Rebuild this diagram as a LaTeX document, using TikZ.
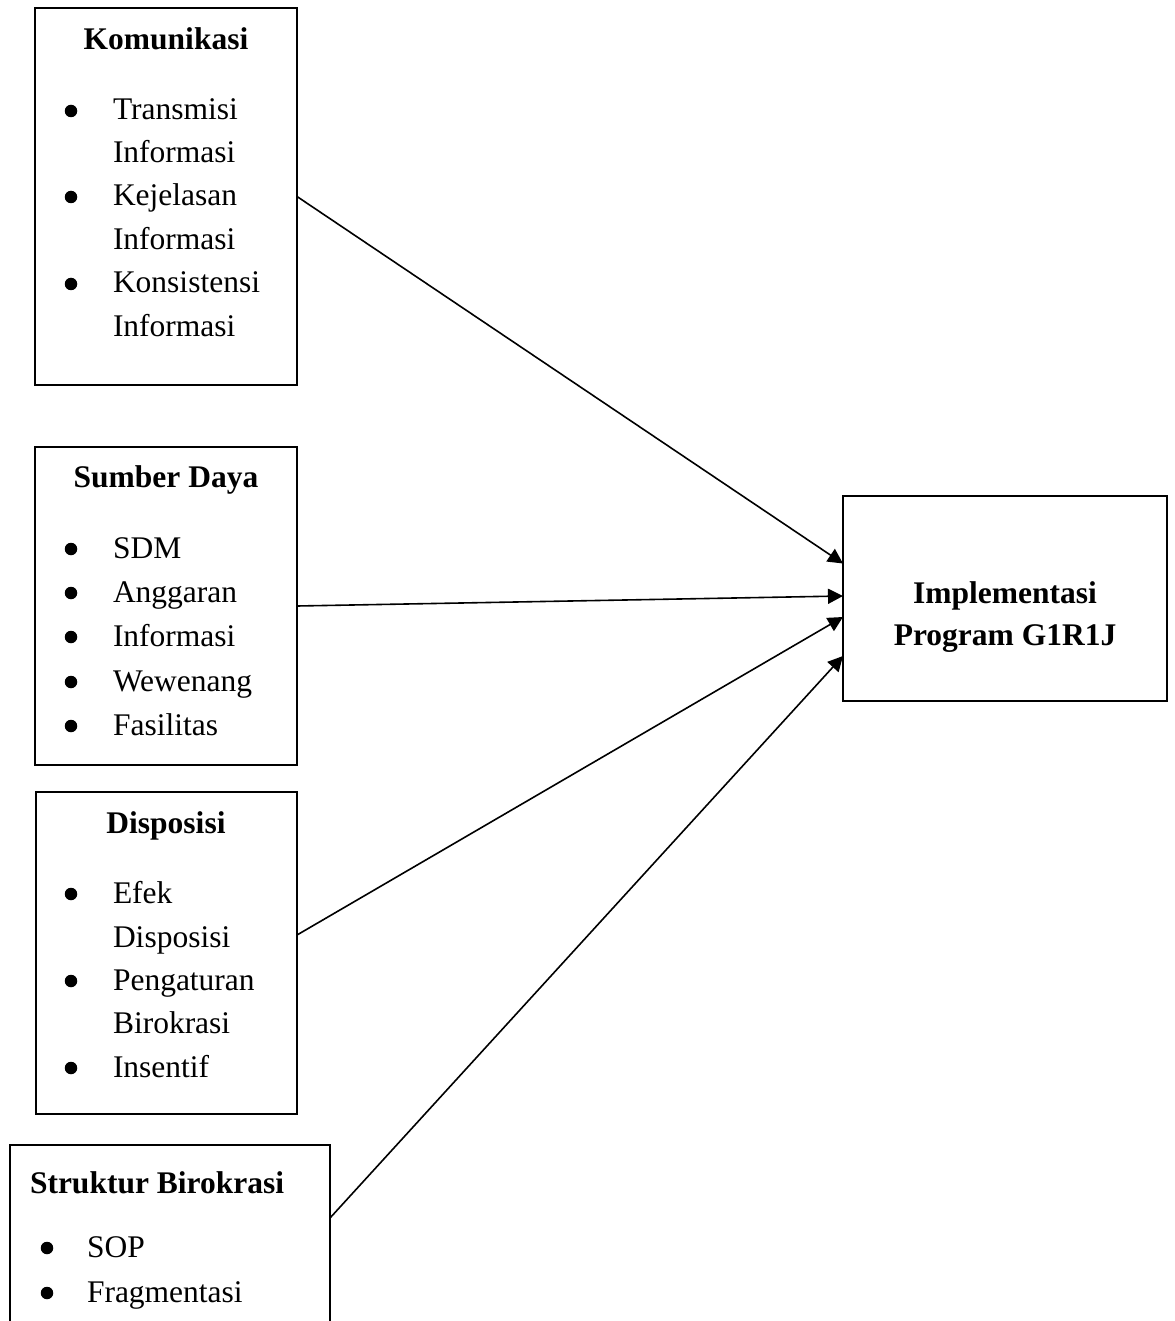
\documentclass[tikz,border=0pt]{standalone}
\usepackage{fontspec}
\setmainfont{Liberation Serif}
\usetikzlibrary{positioning,arrows.meta}

\begin{document}
\begin{tikzpicture}[x=1pt, y=-1pt, every node/.style={inner sep=0pt, outer sep=0pt}]
  \tikzset{
    kotak/.style={draw, rectangle, line width=1.5pt, anchor=north west},
    judul/.style={font=\bfseries\fontsize{31.5}{43}\selectfont, anchor=base},
    butir/.style={font=\fontsize{31.5}{43}\selectfont, anchor=base west},
    bulet/.style={circle, fill, minimum size=12.5pt, yshift=9pt},
    panah/.style={-{Triangle[length=15pt, width=15pt]}, line width=1.6pt}
  }
  \useasboundingbox (0,0) rectangle (1174,1321);
  \clip (0,0) rectangle (1174,1321);

  % Komunikasi
  \node[kotak, minimum width=262pt, minimum height=377pt] (kom) at (35,8) {};
  \node[judul] (kom-judul) at (166,50) {Komunikasi};
  \foreach \y in {120,206,293}
    \node[bulet] (kom-b\y) at (71,\y) {};
  \foreach \y/\teks in {120/Transmisi,163/Informasi,206/Kejelasan,250/Informasi,293/Konsistensi,336/Informasi}
    \node[butir] (kom-\y) at (113,\y) {\teks};

  % Sumber Daya
  \node[kotak, minimum width=262pt, minimum height=318pt] (sd) at (35,447) {};
  \node[judul] (sd-judul) at (166,487) {Sumber Daya};
  \foreach \y/\teks in {558/SDM,602/Anggaran,646/Informasi,691/Wewenang,735/Fasilitas}{
    \node[bulet] (sd-b\y) at (71,\y) {};
    \node[butir] (sd-\y) at (113,\y) {\teks};
  }

  % Disposisi
  \node[kotak, minimum width=261pt, minimum height=322pt] (dis) at (36,792) {};
  \node[judul] (dis-judul) at (166,833) {Disposisi};
  \foreach \y in {903,990,1077}
    \node[bulet] (dis-b\y) at (71,\y) {};
  \foreach \y/\teks in {903/Efek,947/Disposisi,990/Pengaturan,1033/Birokrasi,1077/Insentif}
    \node[butir] (dis-\y) at (113,\y) {\teks};

  % Struktur Birokrasi (terpotong di bawah)
  \node[kotak, minimum width=320pt, minimum height=250pt] (sb) at (10,1145) {};
  \node[judul, anchor=base west] (sb-judul) at (30,1193) {Struktur Birokrasi};
  \foreach \y/\teks in {1257/SOP,1302/Fragmentasi}{
    \node[bulet] (sb-b\y) at (47,\y) {};
    \node[butir] (sb-\y) at (87,\y) {\teks};
  }

  % Implementasi
  \node[kotak, minimum width=324pt, minimum height=205pt] (impl) at (843,496) {};
  \node[judul] (impl-1) at (1005,603) {Implementasi};
  \node[judul] (impl-2) at (1005,645) {Program G1R1J};

  \draw[panah] (kom.east) -- ([yshift=35pt]impl.west);
  \draw[panah] (sd.east) -- ([yshift=2.5pt]impl.west);
  \draw[panah] ([yshift=18pt]dis.east) -- ([yshift=-18.5pt]impl.west);
  \draw[panah] ([yshift=-73pt]sb.north east) -- ([yshift=-57.5pt]impl.west);
\end{tikzpicture}
\end{document}
